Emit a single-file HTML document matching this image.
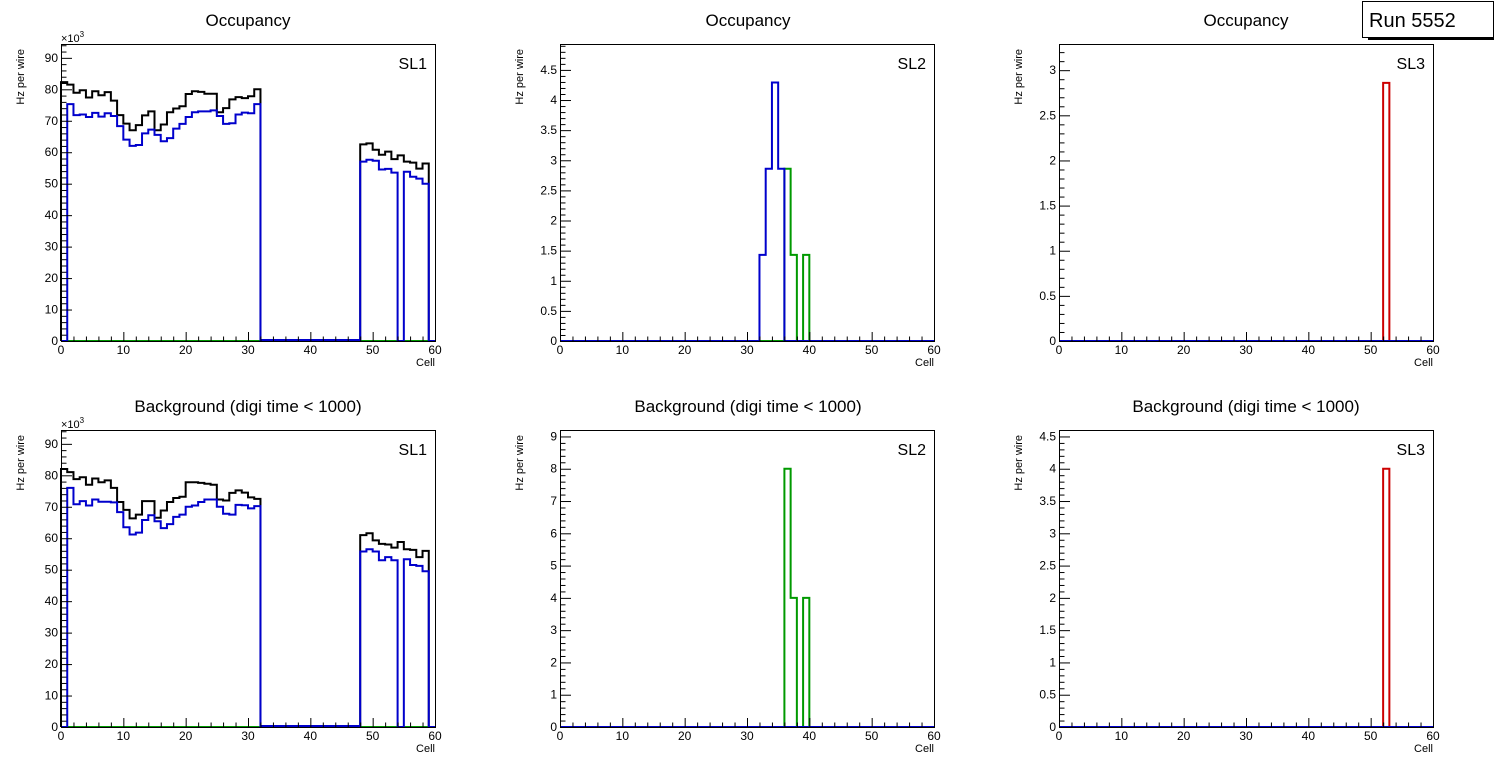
<!DOCTYPE html>
<html><head><meta charset="utf-8">
<style>
html,body{margin:0;padding:0;background:#fff;}
svg{display:block;font-family:"Liberation Sans",sans-serif;}
</style></head>
<body>
<svg id="c" width="1496" height="772" viewBox="0 0 1496 772">
  <g>
    <rect x="1368" y="36" width="126" height="4" fill="#000"/>
    <rect x="1490" y="6" width="4" height="34" fill="#000"/>
    <rect x="1362.5" y="1.5" width="131" height="36" fill="#fff" stroke="#000" stroke-width="1"/>
    <text x="1369" y="27" font-size="20" fill="#000">Run 5552</text>
  </g>
</svg>
<script>
const NS="http://www.w3.org/2000/svg";
const svg=document.getElementById('c');
// --- data ---
const cells=[0,10,20,30,40,50,60];
const occSL1Total=[82.3,81.5,78.9,79.7,77.4,79.4,78.1,79.1,76.4,71.8,69.1,67,68.6,71.7,73,67,68.8,72.7,73.9,74.6,78.5,79.4,79.2,78.6,78.6,72.7,74,76.8,77.5,77.2,77.8,80,
 0,0,0,0,0,0,0,0,0,0,0,0,0,0,0,0,
 62.5,62.8,60.8,59.2,60.2,57.8,59,57,56.7,54.8,56.4,0];
const occSL1Blue=[0,75.3,71.8,72,71.2,72.5,71.3,72.4,71.5,68.3,64,62,62.3,66,67.2,65.5,63.5,64.5,67.5,69,71.2,72.7,73,73,73.3,71.5,69,69.2,72,72.6,72.4,75.3,
 0.3,0.3,0.3,0.3,0.3,0.3,0.3,0.3,0.3,0.3,0.3,0.3,0.3,0.3,0.3,0.3,
 57,57.6,57.3,54.5,54.7,53.5,0,53.8,52.2,51.6,50,0];
const bkgSL1Total=[82,81,78.8,79.4,77,79,77.8,78.4,76,71.5,69,66.3,67.5,71.8,71.8,66.5,68.8,71.5,72.8,73.2,77.8,77.8,77.6,77.3,77,72.3,72,74.4,75.2,74.5,73,72.5,
 0,0,0,0,0,0,0,0,0,0,0,0,0,0,0,0,
 61,61.6,59.3,58.2,58,57,58.8,56.5,56.3,54,56,0];
const bkgSL1Blue=[0,76,70.8,71.8,70.4,72.3,71.6,71.6,71.4,68.3,63.5,61.2,61.8,65.8,67.3,65.4,63.2,64.5,66.8,67.5,70,70.4,71.5,72.3,72.3,70,67.8,67.5,70.6,70.5,69.5,70.2,
 0.3,0.3,0.3,0.3,0.3,0.3,0.3,0.3,0.3,0.3,0.3,0.3,0.3,0.3,0.3,0.3,
 55.8,56.5,55.8,53,54,53,0,53.3,51.5,51.2,49.5,0];
const occSL2Blue=[[32,1.43],[33,2.86],[34,4.29],[35,2.86]];
const occSL2Green=[[36,2.86],[37,1.43],[39,1.43]];
const occSL3Red=[[52,2.86]];
const bkgSL2Green=[[36,8.0],[37,4.0],[39,4.0]];
const bkgSL3Red=[[52,4.0]];

function mk(tag,attrs,parent){const e=document.createElementNS(NS,tag);for(const k in attrs)e.setAttribute(k,attrs[k]);(parent||svg).appendChild(e);return e;}
function dense(pairs){const a=new Array(60).fill(0);pairs.forEach(p=>a[p[0]]=p[1]);return a;}

const colX=[61,560,1059], W=374, rowY=[44,430], H=297, titleX=[248,748,1246];

function panel(col,row,title,sl,ymax,major,minor,yfmt,series,exp){
  const fx=colX[col], fy=rowY[row];
  const g=mk('g',{});
  
  
  const xs=v=>fx+v/60*W, ys=v=>fy+H-v/ymax*H;
  const t=mk('text',{x:titleX[col],y:row?412:26,'font-size':17,'text-anchor':'middle',fill:'#000'},g);
  t.textContent=title;
  
  
  series.forEach(s=>{
    let d='M'+xs(0)+','+ys(0);
    for(let i=0;i<60;i++){d+=' L'+xs(i)+','+ys(s.v[i])+' L'+xs(i+1)+','+ys(s.v[i]);}
    d+=' L'+xs(60)+','+ys(0);
    const p=mk('path',{d:d,fill:'none',stroke:s.c,'stroke-width':2},g);
    
    
  });
  const fr=mk('rect',{x:fx+0.5,y:fy+0.5,width:W,height:H,fill:'none',stroke:'#000','stroke-width':1},g);
  
  
  for(let v=0;v<=60;v+=2){
    const L=(v%10===0)?9:4.5;
    mk('line',{x1:xs(v)+0.5,y1:fy+H,x2:xs(v)+0.5,y2:fy+H-L,stroke:'#000','stroke-width':1},g);
  }
  cells.forEach(v=>{
    const tx=mk('text',{x:xs(v),y:fy+H+13,'font-size':12,'text-anchor':'middle',fill:'#000'},g);
    tx.textContent=v;
    
    
  });
  const xt=mk('text',{x:fx+W,y:fy+H+25,'font-size':11,'text-anchor':'end',fill:'#000'},g);
  xt.textContent='Cell';
  
  
  const n=Math.floor(ymax/minor+1e-6);
  for(let i=0;i<=n;i++){
    const v=i*minor; const isMaj=Math.abs(v/major-Math.round(v/major))<1e-6;
    const L=isMaj?11:5.5;
    mk('line',{x1:fx,y1:ys(v)+0.5,x2:fx+L,y2:ys(v)+0.5,stroke:'#000','stroke-width':1},g);
    if(isMaj){
      const ty=mk('text',{x:fx-3,y:ys(v)+4,'font-size':12,'text-anchor':'end',fill:'#000'},g);
      ty.textContent=yfmt(v);
      
      
    }
  }
  if(exp){
    const e=mk('text',{x:fx,y:fy-2,'font-size':11,fill:'#000'},g);
    e.innerHTML='×10<tspan dy="-5" font-size="8">3</tspan>';
    
    
  }
  const yt=mk('text',{transform:'translate('+(fx-37)+','+(fy+5)+') rotate(-90)','font-size':11,'text-anchor':'end',fill:'#000'},g);
  yt.textContent='Hz per wire';
  
  
  const lb=mk('text',{x:fx+W-8,y:fy+25,'font-size':16,'text-anchor':'end',fill:'#000'},g);
  lb.textContent=sl;
  
  
}
const f0=v=>(+v.toFixed(1)).toString();
const zeros=new Array(60).fill(0);
const OCC='Occupancy', BKG='Background (digi time < 1000)';
panel(0,0,OCC,'SL1',94.4,10,2,f0,[
  {v:occSL1Total,c:'#000',n:'total-series'},{v:zeros,c:'#009900',n:'green-series'},{v:occSL1Blue,c:'#0000cc',n:'blue-series'}],true);
panel(1,0,OCC,'SL2',4.93,0.5,0.1,f0,[
  {v:dense(occSL2Green),c:'#009900',n:'green-series'},{v:dense(occSL2Blue),c:'#0000cc',n:'blue-series'}],false);
panel(2,0,OCC,'SL3',3.29,0.5,0.1,f0,[
  {v:dense(occSL3Red),c:'#cc0000',n:'red-series'},{v:zeros,c:'#0000cc',n:'blue-series'}],false);
panel(0,1,BKG,'SL1',94.4,10,2,f0,[
  {v:bkgSL1Total,c:'#000',n:'total-series'},{v:zeros,c:'#009900',n:'green-series'},{v:bkgSL1Blue,c:'#0000cc',n:'blue-series'}],true);
panel(1,1,BKG,'SL2',9.2,1,0.2,f0,[
  {v:dense(bkgSL2Green),c:'#009900',n:'green-series'},{v:zeros,c:'#0000cc',n:'blue-series'}],false);
panel(2,1,BKG,'SL3',4.6,0.5,0.1,f0,[
  {v:dense(bkgSL3Red),c:'#cc0000',n:'red-series'},{v:zeros,c:'#0000cc',n:'blue-series'}],false);
</script>
</body></html>
